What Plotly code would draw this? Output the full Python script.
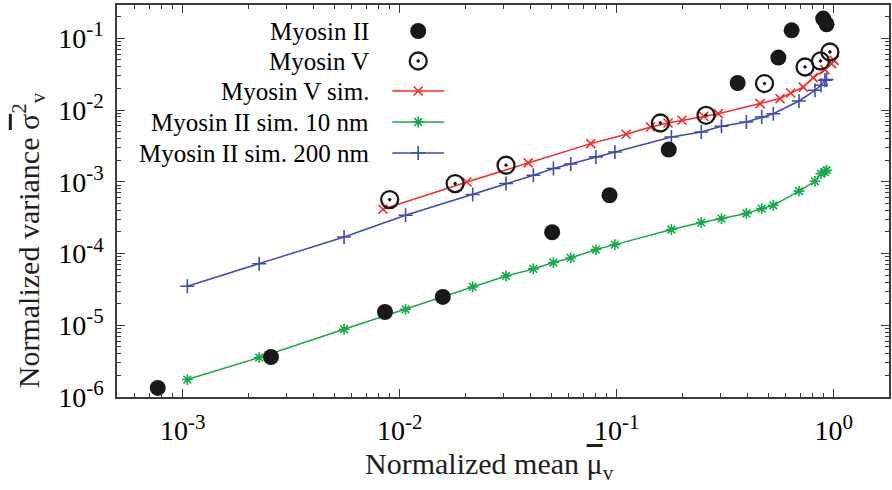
import plotly.graph_objects as go

# ---- data ----
myo2_x = [7.67e-4, 2.55e-3, 8.55e-3, 0.0158, 0.0504, 0.0927, 0.1738, 0.361, 0.556, 0.640, 0.895, 0.927]
myo2_y = [1.34e-6, 3.61e-6, 1.53e-5, 2.48e-5, 1.98e-4, 6.49e-4, 2.81e-3, 0.0238, 0.0538, 0.129, 0.188, 0.157]

myo5_x = [8.99e-3, 0.0180, 0.0309, 0.159, 0.258, 0.480, 0.738, 0.869, 0.961]
myo5_y = [5.65e-4, 9.44e-4, 1.70e-3, 6.6e-3, 8.45e-3, 0.0234, 0.0398, 0.0483, 0.0644]

sim5_x = [8.37e-3, 0.0204, 0.0391, 0.0759, 0.1106, 0.1432, 0.1725, 0.200, 0.252, 0.294,
          0.458, 0.566, 0.634, 0.724, 0.805, 0.911, 0.977, 1.005]
sim5_y = [4.14e-4, 9.93e-4, 1.83e-3, 3.40e-3, 4.59e-3, 5.81e-3, 6.6e-3, 7.2e-3, 8.18e-3, 8.9e-3,
          0.0123, 0.01445, 0.0173, 0.0209, 0.0283, 0.0366, 0.0444, 0.0493]

sim2_x = [1.05e-3, 2.25e-3, 5.54e-3, 0.01064, 0.0217, 0.0309, 0.0413, 0.0511, 0.0614, 0.0802, 0.0981,
          0.1787, 0.2454, 0.304, 0.396, 0.466, 0.527, 0.692, 0.820, 0.874, 0.911, 0.927]
sim2_10_y = [1.75e-6, 3.55e-6, 8.8e-6, 1.67e-5, 3.42e-5, 4.87e-5, 6.1e-5, 7.48e-5, 8.67e-5, 1.135e-4, 1.33e-4,
             2.16e-4, 2.70e-4, 3.07e-4, 3.61e-4, 4.23e-4, 4.70e-4, 7.41e-4, 1.016e-3, 1.30e-3, 1.37e-3, 1.45e-3]
sim2_200_y = [3.5e-5, 7.2e-5, 1.70e-4, 3.41e-4, 6.64e-4, 9.44e-4, 1.23e-3, 1.53e-3, 1.77e-3, 2.22e-3, 2.60e-3,
              4.21e-3, 4.94e-3, 5.94e-3, 6.81e-3, 8.0e-3, 8.87e-3, 0.01337, 0.01883, 0.0221, 0.026, 0.0265]

legend_labels = ["Myosin II", "Myosin V", "Myosin V sim.", "Myosin II sim. 10 nm", "Myosin II sim. 200 nm"]

x_exps = [-3, -2, -1, 0]
y_exps = [-6, -5, -4, -3, -2, -1]

RED = "rgb(250,40,40)"
GREEN = "rgb(20,170,70)"
BLUE = "rgb(60,75,175)"
BLACK = "rgb(25,25,25)"
FONT = "Liberation Serif, Times New Roman, serif"

W, H = 892, 490
L, R, T, B = 117, 891, 5, 397  # plot area in pixels

styles = [
    dict(mode="markers", marker=dict(symbol="circle", size=16, color=BLACK)),
    dict(mode="markers", marker=dict(symbol="circle-open-dot", size=17, color=BLACK, line=dict(width=2.3, color=BLACK))),
    dict(mode="lines+markers", line=dict(color=RED, width=1.5),
         marker=dict(symbol="x-thin", size=9, line=dict(width=1.6, color=RED), color=RED)),
    dict(mode="lines+markers", line=dict(color=GREEN, width=1.5),
         marker=dict(symbol="asterisk", size=9, line=dict(width=1.6, color=GREEN), color=GREEN)),
    dict(mode="lines+markers", line=dict(color=BLUE, width=1.5),
         marker=dict(symbol="cross-thin", size=10, line=dict(width=1.6, color=BLUE), color=BLUE)),
]

fig = go.Figure()
fig.add_trace(go.Scatter(x=sim5_x, y=sim5_y, **styles[2], showlegend=False))
fig.add_trace(go.Scatter(x=sim2_x, y=sim2_10_y, **styles[3], showlegend=False))
fig.add_trace(go.Scatter(x=sim2_x, y=sim2_200_y, **styles[4], showlegend=False))
fig.add_trace(go.Scatter(x=myo2_x, y=myo2_y, **styles[0], showlegend=False))
fig.add_trace(go.Scatter(x=myo5_x, y=myo5_y, **styles[1], showlegend=False))

# custom legend (text left of key), on an overlay axis in pixel units
row_y = [31, 61, 91, 122, 153]
for i, lab in enumerate(legend_labels):
    st = styles[i]
    if st["mode"] == "markers":
        fig.add_trace(go.Scatter(x=[419], y=[row_y[i]], xaxis="x2", yaxis="y2", showlegend=False,
                                 hoverinfo="skip", **st))
    else:
        fig.add_trace(go.Scatter(x=[393, 419, 445], y=[row_y[i]] * 3, xaxis="x2", yaxis="y2",
                                 mode="lines", line=st["line"], showlegend=False, hoverinfo="skip"))
        fig.add_trace(go.Scatter(x=[419], y=[row_y[i]], xaxis="x2", yaxis="y2", mode="markers",
                                 marker=st["marker"], showlegend=False, hoverinfo="skip"))
    fig.add_annotation(x=372, y=row_y[i], xref="x2", yref="y2", text=lab, showarrow=False,
                       xanchor="right", yanchor="middle", font=dict(family=FONT, size=25, color="black"))


def minor_vals(exps):
    lo, hi = min(exps) - 1, max(exps) + 1
    return [m * 10.0 ** e for e in range(lo, hi) for m in range(2, 10)]


def axis(exps, rng, standoff):
    return dict(
        type="log", range=rng, showgrid=False, zeroline=False, showline=True,
        linecolor="rgb(60,60,60)", linewidth=1.5, mirror="ticks",
        ticks="inside", ticklen=8, tickwidth=1.2, tickcolor="rgb(60,60,60)",
        tickmode="array", tickvals=[10.0 ** e for e in exps],
        ticktext=[f"10<sup><span style='font-size:21px'>{e}</span></sup>" for e in exps],
        tickfont=dict(family=FONT, size=28, color="black"),
        ticklabelstandoff=standoff,
        minor=dict(tickmode="array", tickvals=minor_vals(exps), ticks="inside", ticklen=4,
                   tickwidth=1, tickcolor="rgb(60,60,60)", showgrid=False),
    )


fig.update_layout(
    width=W, height=H,
    margin=dict(l=L, r=W - R, t=T, b=H - B),
    paper_bgcolor="white", plot_bgcolor="white",
    xaxis=axis(x_exps, [-3.303, 0.255], 8),
    yaxis=axis(y_exps, [-6, -0.536], 6),
    xaxis2=dict(overlaying="x", range=[L, R], visible=False, fixedrange=True),
    yaxis2=dict(overlaying="y", range=[B, T], visible=False, fixedrange=True),
    showlegend=False,
)

fig.add_annotation(x=(490 - L) / (R - L), y=(B - 466) / (B - T), xref="paper", yref="paper",
                   text="Normalized mean <span style='text-decoration:overline'>μ</span><sub>v</sub>",
                   showarrow=False,
                   font=dict(family=FONT, size=30, color="rgb(30,30,30)"), xanchor="center", yanchor="middle")
fig.add_annotation(x=(28 - L) / (R - L), y=(B - 240) / (B - T), xref="paper", yref="paper",
                   text="Normalized variance <span style='text-decoration:overline'>σ</span><sup>2</sup><sub>v</sub>",
                   showarrow=False, textangle=-90,
                   font=dict(family=FONT, size=30, color="rgb(30,30,30)"), xanchor="center", yanchor="middle")

fig.write_html("out.html")
